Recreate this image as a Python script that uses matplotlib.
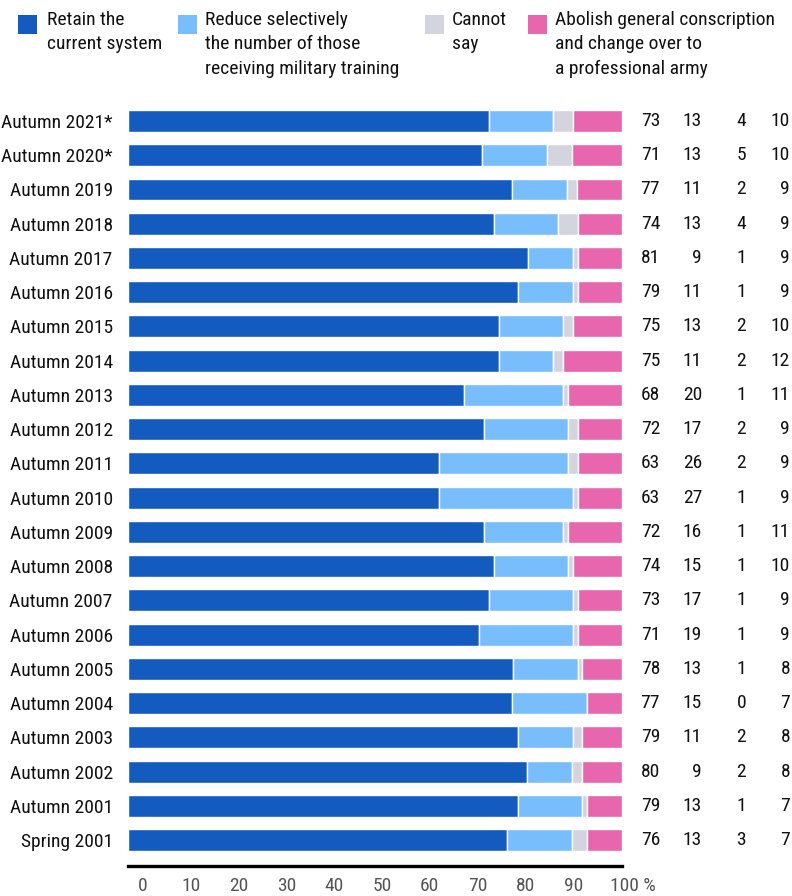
import numpy as np
import matplotlib
matplotlib.use("Agg")
import matplotlib.pyplot as plt
from matplotlib import font_manager as fm
from matplotlib.transforms import blended_transform_factory
from matplotlib.patches import Rectangle

# condensed face if the machine has one, otherwise plain sans at a smaller size
fs = 14
family = None
for cand in ["Roboto Condensed", "PT Sans Narrow", "Liberation Sans Narrow"]:
    try:
        fm.findfont(cand, fallback_to_default=False)
        family = cand
        break
    except ValueError:
        pass
if family is None:
    family = "DejaVu Sans"
    fs = 11
plt.rcParams['font.family'] = [family, 'DejaVu Sans']

labels = ["Autumn 2021*", "Autumn 2020*", "Autumn 2019", "Autumn 2018", "Autumn 2017",
          "Autumn 2016", "Autumn 2015", "Autumn 2014", "Autumn 2013", "Autumn 2012",
          "Autumn 2011", "Autumn 2010", "Autumn 2009", "Autumn 2008", "Autumn 2007",
          "Autumn 2006", "Autumn 2005", "Autumn 2004", "Autumn 2003", "Autumn 2002",
          "Autumn 2001", "Spring 2001"]
retain = [73, 71, 77, 74, 81, 79, 75, 75, 68, 72, 63, 63, 72, 74, 73, 71, 78, 77, 79, 80, 79, 76]
reduce = [13, 13, 11, 13, 9, 11, 13, 11, 20, 17, 26, 27, 16, 15, 17, 19, 13, 15, 11, 9, 13, 13]
cannot = [4, 5, 2, 4, 1, 1, 2, 2, 1, 2, 2, 1, 1, 1, 1, 1, 1, 0, 2, 2, 1, 3]
abolish = [10, 10, 9, 9, 9, 9, 10, 12, 11, 9, 9, 9, 11, 10, 9, 9, 8, 7, 8, 8, 7, 7]

series = [retain, reduce, cannot, abolish]
colors = ["#135bbf", "#78befc", "#d4d4de", "#e866ad"]
legend_text = ["Retain the\ncurrent system",
               "Reduce selectively\nthe number of those\nreceiving military training",
               "Cannot\nsay",
               "Abolish general conscription\nand change over to\na professional army"]
ticks = [0, 10, 20, 30, 40, 50, 60, 70, 80, 90, 100]

W, H = 792, 896
fig = plt.figure(figsize=(W / 100, H / 100), dpi=100)
# axes box in pixels
left, right, top, bottom = 128, 622, 100, 866
ax = fig.add_axes([left / W, 1 - bottom / H, (right - left) / W, (bottom - top) / H])

vals = np.array(series, dtype=float)
vals = vals / vals.sum(axis=0) * 100  # bars fill to 100
y = np.arange(len(labels))
start = np.zeros(len(labels))
for v, c in zip(vals, colors):
    ax.barh(y, v, left=start, height=0.64, color=c, edgecolor="white", linewidth=1.0)
    start += v

row_step = 34.24
ax.set_xlim(0, 100)
ax.set_ylim((bottom - 121) / row_step, (top - 121) / row_step)
ax.set_yticks(y, labels, fontsize=fs, color="#111111")
ax.tick_params(axis="y", length=0, pad=11)

for s in ["top", "right", "left"]:
    ax.spines[s].set_visible(False)
ax.spines["bottom"].set_linewidth(2.4)
ax.spines["bottom"].set_color("black")

# x tick labels (slightly offset from bar scale as in original)
ax.set_xticks([])
tr = blended_transform_factory(ax.transData, ax.transAxes)
for t in ticks:
    xp = 3.0 + 0.968 * t
    lab = str(t)
    if t == 100:
        lab = "100 %"
        xp += 2.4
    ax.text(xp, -0.014, lab, transform=tr, ha="center", va="top", fontsize=fs, color="#555555")

# value columns
trv = blended_transform_factory(fig.transFigure, ax.transData)
col_x = [660, 702, 746, 790]
for arr, cx in zip(series, col_x):
    for i, v in enumerate(arr):
        ax.text(cx / W, i, str(v), transform=trv, ha="right", va="center", fontsize=fs, color="#111111")

# legend
leg_sq = [18, 178, 425, 528]
leg_tx = [47, 205, 452, 555]
for sx, tx, c, t in zip(leg_sq, leg_tx, colors, legend_text):
    fig.patches.append(Rectangle((sx / W, 1 - 34 / H), 19 / W, 19 / H, transform=fig.transFigure,
                                 facecolor=c, edgecolor="none"))
    fig.text(tx / W, 1 - 11 / H, t, ha="left", va="top", fontsize=fs, linespacing=1.45, color="#111111")

fig.savefig("out.png", dpi=100)
